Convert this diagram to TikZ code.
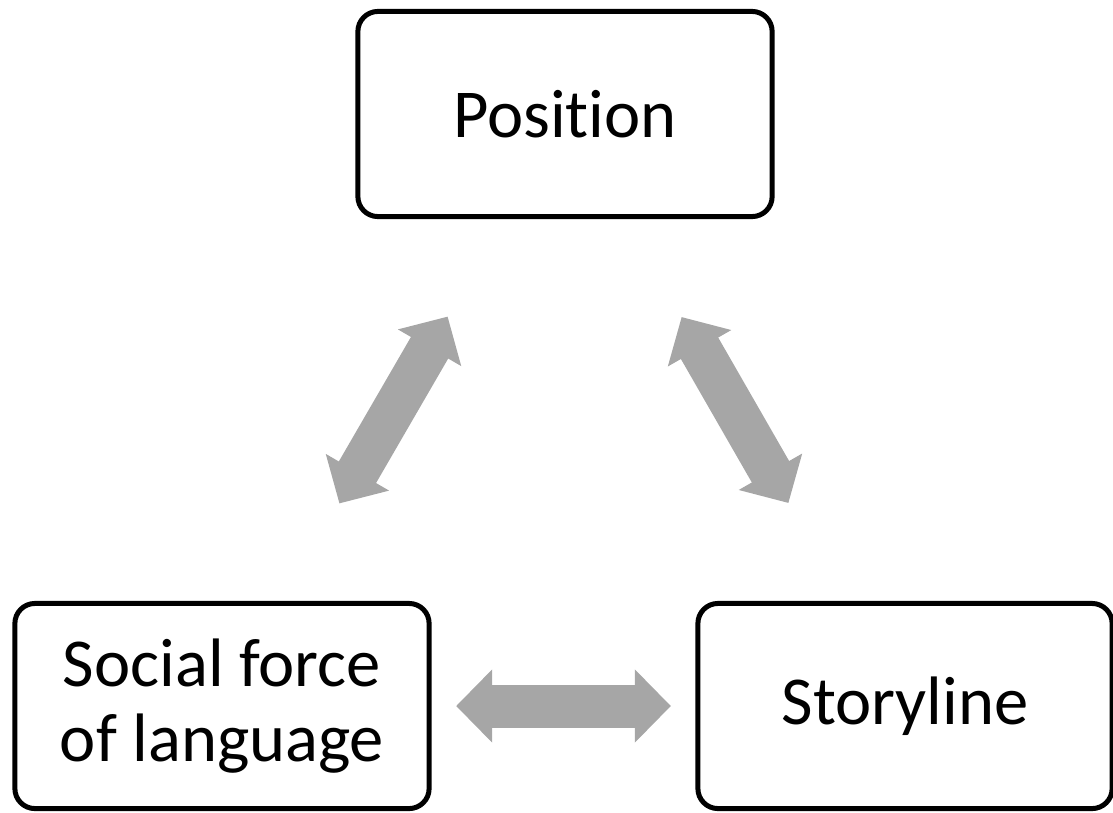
\documentclass[tikz,border=0pt]{standalone}
\usepackage{fontspec}
\setmainfont{Carlito}[Ligatures=NoCommon]
\usetikzlibrary{arrows.meta}
\definecolor{arrowgray}{HTML}{A6A6A6}

\begin{document}
\begin{tikzpicture}[
        x=0.01cm, y=-0.01cm,
        box/.style={rectangle, draw, rounded corners=0.2cm, line width=0.05cm,
          minimum width=4.14cm, minimum height=2.05cm, align=center,
          font=\fontsize{19.5}{21.5}\selectfont},
        link/.style={{Triangle[width=0.71cm,length=0.36cm]}-{Triangle[width=0.71cm,length=0.36cm]},
          line width=0.43cm, arrowgray, shorten <=2.34cm, shorten >=2.34cm}
      ]
        \useasboundingbox (0,0) rectangle (1113,812);

        % the three boxes
        \node[box] (Position) at (565,114) {Position};
        \node[box] (Social) at (222,706) {Social force\\of language};
        \node[box] (Storyline) at (905,706) {Storyline};

        % double arrows between them
        \draw[link] (Social.center) -- (Position.center);
        \draw[link] (Position.center) -- (Storyline.center);
        \draw[link] (Social.center) -- (Storyline.center);
      \end{tikzpicture}
\end{document}
